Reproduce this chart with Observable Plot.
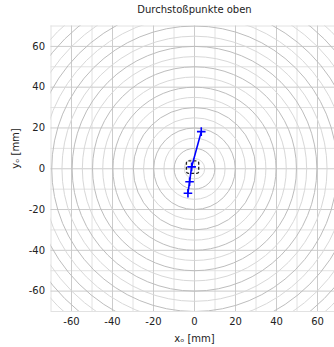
<!DOCTYPE html>
<html>
<head>
<meta charset="utf-8">
<script src="https://cdn.jsdelivr.net/npm/d3@7"></script>
<script src="https://cdn.jsdelivr.net/npm/@observablehq/plot@0.6"></script>
<style>
  html, body { margin: 0; padding: 0; background: white; overflow: hidden; }
  #chart svg { overflow: hidden; display: block; }
</style>
</head>
<body>
<div id="chart"></div>
<script>
// ---- data ----
const title = "Durchstoßpunkte oben";
const xLabel = "xₒ [mm]";
const yLabel = "yₒ [mm]";
const tickValues = [-60, -40, -20, 0, 20, 40, 60];
const gridMinor = [-70, -50, -30, -10, 10, 30, 50, 70];
const gridMajor = [-60, -40, -20, 0, 20, 40, 60];
const circleMajor = [10, 20, 30, 40, 50, 60, 70, 80, 90, 100];
const circleMinor = [5, 15, 25, 35, 45, 55, 65, 75, 85, 95];
const ptX = [3.3, -1.4, -2.4, -3.2];
const ptY = [18.2, 0.9, -6.4, -12.0];
const squareBox = [{x1: -3.7, x2: 2.3, y1: -2.5, y2: 3.6}];

const points = ptX.map((x, i) => ({x, y: ptY[i]}));

const W = 334, H = 347;
const mL = 50.5, mR = -3.5, mT = 25.5, mB = 36;
const pxPerUnit = (H - mT - mB) / 140;

const plusSymbol = {
  draw(context, size) {
    const a = Math.sqrt(size / Math.PI);
    context.moveTo(-a, 0); context.lineTo(a, 0);
    context.moveTo(0, -a); context.lineTo(0, a);
  }
};

const chart = Plot.plot({
  width: W, height: H,
  marginLeft: mL, marginRight: mR, marginTop: mT, marginBottom: mB,
  style: {fontFamily: "DejaVu Sans, sans-serif", fontSize: "10px", background: "white", color: "#222"},
  x: {domain: [-70, 70]},
  y: {domain: [-70, 70]},
  r: {type: "linear", domain: [0, 70], range: [0, 70 * pxPerUnit]},
  marks: [
    Plot.ruleX(gridMinor, {stroke: "#e2e2e2", strokeWidth: 1}),
    Plot.ruleY(gridMinor, {stroke: "#e2e2e2", strokeWidth: 1}),
    Plot.ruleX(gridMajor, {stroke: "#cccccc", strokeWidth: 1}),
    Plot.ruleY(gridMajor, {stroke: "#cccccc", strokeWidth: 1}),
    Plot.dot(circleMinor, {x: () => 0, y: () => 0, r: d => d, stroke: "#d8d8d8", strokeWidth: 1, fill: "none", clip: true}),
    Plot.dot(circleMajor, {x: () => 0, y: () => 0, r: d => d, stroke: "#bdbdbd", strokeWidth: 1, fill: "none", clip: true}),
    Plot.rect(squareBox, {x1: "x1", x2: "x2", y1: "y1", y2: "y2", fill: "none", stroke: "#222", strokeWidth: 1.3, strokeDasharray: "3,2", rx: 2}),
    Plot.line(points, {x: "x", y: "y", stroke: "#0000ff", strokeWidth: 1.6}),
    Plot.dot(points, {x: "x", y: "y", symbol: plusSymbol, r: 4.3, stroke: "#0000ff", strokeWidth: 1.6, fill: "none"}),
    Plot.axisX(tickValues, {tickSize: 0, tickPadding: 6, tickFormat: d => String(d), fontSize: 10, fill: "#222", label: null}),
    Plot.axisY(tickValues, {tickSize: 0, tickPadding: 6, tickFormat: d => String(d), fontSize: 10, fill: "#222", label: null}),
    Plot.text([title], {frameAnchor: "top", dy: -16.5, lineAnchor: "middle", fontSize: 10, fill: "#222"}),
    Plot.text([xLabel], {frameAnchor: "bottom", dy: 27, lineAnchor: "middle", fontSize: 10, fill: "#222"}),
    Plot.text([yLabel], {frameAnchor: "left", dx: -35.5, rotate: -90, lineAnchor: "middle", fontSize: 10, fill: "#222"})
  ]
});
document.getElementById("chart").appendChild(chart);
</script>
</body>
</html>
